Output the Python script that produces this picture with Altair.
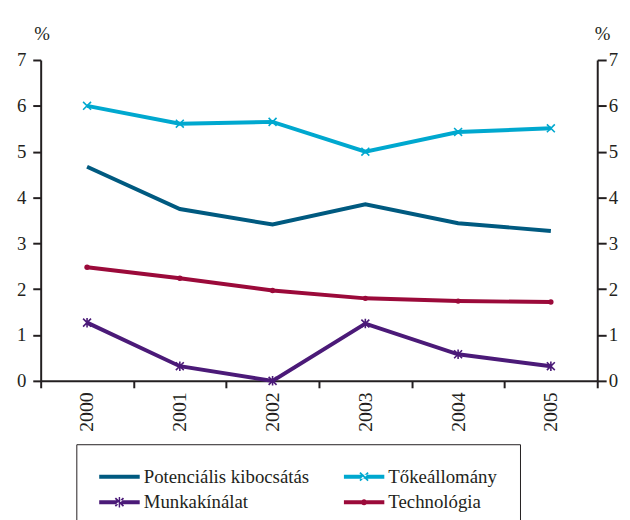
import altair as alt
import pandas as pd

years = ["2000", "2001", "2002", "2003", "2004", "2005"]
series_names = ["Potenciális kibocsátás", "Tőkeállomány", "Munkakínálat", "Technológia"]
potencialis = [4.67, 3.75, 3.41, 3.85, 3.44, 3.27]
tokeallomany = [6.00, 5.61, 5.65, 5.00, 5.43, 5.51]
munkakinalat = [1.27, 0.32, 0.00, 1.25, 0.58, 0.32]
technologia = [2.48, 2.24, 1.97, 1.80, 1.74, 1.72]
y_ticks = [0, 1, 2, 3, 4, 5, 6, 7]

colors = ["#005a80", "#00a8cf", "#4b1a78", "#9b0a3a"]
FONT = "Liberation Serif"
INK = "#231f20"

rows = []
for name, vals in zip(series_names, [potencialis, tokeallomany, munkakinalat, technologia]):
    for yr, v in zip(years, vals):
        rows.append({"year": yr, "series": name, "value": v})
df = pd.DataFrame(rows)

cross_series = ["Tőkeállomány", "Munkakínálat"]
cross_paths = [
    "M-1,-1L1,1M-1,1L1,-1",
    "M-1,-1L1,1M-1,1L1,-1M0,-1.2L0,1.2",
]
BAR = "M-1,-0.1H1V0.1H-1Z"
D1 = "M-0.17,-0.23L0.23,0.17L0.17,0.23L-0.23,-0.17Z"
D2 = "M0.17,-0.23L-0.23,0.17L-0.17,0.23L0.23,-0.17Z"
V1 = "M-0.035,-0.26H0.035V0.26H-0.035Z"
DOT = "M-0.15,0A0.15,0.15,0,1,1,0.15,0A0.15,0.15,0,1,1,-0.15,0Z"
legend_paths = [BAR, BAR + D1 + D2, BAR + D1 + D2 + V1, BAR + DOT]

x_enc = alt.X(
    "year:O",
    sort=years,
    scale=alt.Scale(type="band", paddingInner=0, paddingOuter=0),
    axis=alt.Axis(
        title=None, labelAngle=270, tickBand="extent", tickSize=7,
        labelPadding=4, labelFontSize=20, labelBaseline="middle",
    ),
)
y_scale = alt.Scale(domain=[0, 7], nice=False, zero=True)
color_scale = alt.Scale(domain=series_names, range=colors)

base = alt.Chart(df)

lines = base.mark_line(strokeWidth=4).encode(
    x=x_enc,
    y=alt.Y(
        "value:Q", scale=y_scale,
        axis=alt.Axis(
            values=y_ticks, title="%", titleAngle=0, titleX=1, titleY=-21,
            titleAlign="center", titleBaseline="alphabetic", tickSize=8,
            labelPadding=7, orient="left",
        ),
    ),
    color=alt.Color("series:N", scale=color_scale, legend=None),
    detail="series:N",
)

crosses = base.transform_filter(
    alt.FieldOneOfPredicate(field="series", oneOf=cross_series)
).mark_point(filled=False, strokeWidth=1.6, size=64, opacity=1).encode(
    x=x_enc,
    y=alt.Y("value:Q", scale=y_scale, axis=None),
    color=alt.Color("series:N", scale=color_scale, legend=None),
    shape=alt.Shape("series:N", scale=alt.Scale(domain=cross_series, range=cross_paths), legend=None),
)

dots = base.transform_filter(
    alt.FieldEqualPredicate(field="series", equal="Technológia")
).mark_circle(size=30, opacity=1).encode(
    x=x_enc,
    y=alt.Y("value:Q", scale=y_scale, axis=None),
    color=alt.Color("series:N", scale=color_scale, legend=None),
)

legend_def = alt.Legend(
    title=None, orient="none", legendX=36, legendY=388, columns=2,
    direction="horizontal",
    strokeColor=INK, padding=23, labelFont=FONT,
    labelFontSize=19, labelColor=INK, labelOffset=4, symbolSize=1681,
    symbolStrokeWidth=0, symbolOpacity=1, clipHeight=19, rowPadding=6,
    columnPadding=34, labelLimit=400,
)
legend_layer = base.mark_point(filled=True, opacity=0).encode(
    x=x_enc,
    y=alt.Y("value:Q", scale=y_scale, axis=None),
    color=alt.Color("series:N", scale=color_scale, legend=legend_def),
    shape=alt.Shape("series:N", scale=alt.Scale(domain=series_names, range=legend_paths), legend=legend_def),
)

right_axis = base.mark_line(opacity=0).encode(
    x=x_enc,
    y=alt.Y(
        "value:Q", scale=y_scale,
        axis=alt.Axis(
            values=y_ticks, title="%", titleAngle=0, titleX=5, titleY=-21,
            titleAlign="center", titleBaseline="alphabetic", tickSize=9,
            labelPadding=2, orient="right",
        ),
    ),
    detail="series:N",
)

chart = alt.layer(lines, crosses, dots, legend_layer, right_axis).resolve_scale(
    y="independent", color="independent", shape="independent"
).properties(
    width=562, height=324,
    padding={"left": 33, "top": 50, "right": 25, "bottom": 138},
    autosize=alt.AutoSizeParams(type="none"),
).configure(font=FONT).configure_view(stroke=None).configure_axis(
    grid=False, domainColor=INK, domainWidth=2, tickColor=INK, tickWidth=2,
    labelFont=FONT, labelFontSize=19, labelColor=INK, titleFont=FONT,
    titleFontSize=19, titleFontWeight="normal", titleColor=INK,
)

chart.save("out.html", embed_options={"renderer": "svg", "actions": False})
